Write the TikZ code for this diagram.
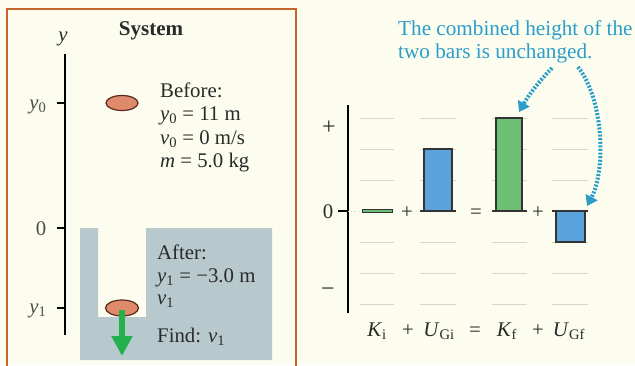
\documentclass[tikz,border=0pt]{standalone}
\usepackage{fontspec}
\setmainfont{Liberation Serif}
\usetikzlibrary{arrows.meta}
\definecolor{bg}{HTML}{FDFDEF}
\definecolor{frame}{HTML}{C8662A}
\definecolor{pool}{HTML}{B7C9CC}
\definecolor{rock}{HTML}{E08A6C}
\definecolor{rockline}{HTML}{5A2A1A}
\definecolor{garrow}{HTML}{22B14C}
\definecolor{gridc}{HTML}{D6D6C8}
\definecolor{bluebar}{HTML}{5BA3DC}
\definecolor{greenbar}{HTML}{6DC073}
\definecolor{barline}{HTML}{333333}
\definecolor{note}{HTML}{2A9DC9}
\definecolor{ink}{HTML}{2A2A2A}
\begin{document}
\begin{tikzpicture}[x=1pt,y=-1pt,
  txt/.style={inner sep=0pt,anchor=base west,text=ink,font=\fontsize{20.8}{24}\selectfont},
  ctxt/.style={inner sep=0pt,anchor=base,text=ink,font=\fontsize{20.8}{24}\selectfont},
  signtxt/.style={inner sep=0pt,anchor=center,text=ink,font=\fontsize{24}{26}\selectfont},
  gridline/.style={gridc,line width=1pt},
  baseln/.style={barline,line width=1.2pt},
  bluefill/.style={fill=bluebar,draw=barline,line width=1.2pt},
  greenfill/.style={fill=greenbar,draw=barline,line width=1.2pt},
  rockstyle/.style={fill=rock,draw=rockline,line width=1.2pt},
  dotarrow/.style={note,line width=4pt,dash pattern=on 2pt off 1.6pt,-{Triangle[width=13pt,length=10pt]}},
  notetxt/.style={inner sep=0pt,anchor=base west,text=note,font=\fontsize{21.2}{24}\selectfont}]
\useasboundingbox (0,0) rectangle (635,365);
\fill[bg] (0,0) rectangle (635,365);

% ---------- left panel ----------
\draw[frame,line width=2.2pt] (7,368) -- (7,9) -- (296,9) -- (296,368);
\fill[pool] (80,228) -- (98,228) -- (98,317) -- (146,317) -- (146,228) -- (272,228) -- (272,360) -- (80,360) -- cycle;

\node[ctxt,font=\fontsize{21}{24}\selectfont\bfseries] (sys) at (151,35) {System};
\node[ctxt] (ylab) at (63,41) {\textit{y}};
\draw[line width=1.6pt] (65,54) -- (65,335);
\draw[line width=1.2pt] (57,103) -- (65,103);
\draw[line width=1.2pt] (57,228) -- (65,228);
\draw[line width=1.2pt] (57,308) -- (65,308);
\node[ctxt,text=black!70] (y0lab) at (38,109) {\textit{y}\textsubscript{0}};
\node[ctxt,text=black!70] (zlab) at (41,235) {0};
\node[ctxt,text=black!70] (y1lab) at (38,313) {\textit{y}\textsubscript{1}};

\draw[rockstyle] (122,103) ellipse [x radius=16,y radius=7.5];
\node[txt] (b1) at (160,97) {Before:};
\node[txt] (b2) at (160,120) {\textit{y}\textsubscript{0} = 11 m};
\node[txt] (b3) at (160,144) {\textit{v}\textsubscript{0} = 0 m/s};
\node[txt] (b4) at (160,167) {\textit{m} = 5.0 kg};

\draw[rockstyle] (122,308) ellipse [x radius=16.5,y radius=8];
\coordinate (ga) at (122,310);
\coordinate (gb) at (122,356);
\draw[garrow,line width=6pt,-{Triangle[width=20pt,length=20pt]}] (ga) -- (gb);
\node[txt] (a1) at (157,259) {After:};
\node[txt] (a2) at (157,282) {\textit{y}\textsubscript{1} = −3.0 m};
\node[txt] (a3) at (157,304) {\textit{v}\textsubscript{1}};
\node[txt] (a4) at (157,342) {Find: \textit{v}\textsubscript{1}};

% ---------- right panel ----------
\foreach \xa/\xb in {360/394,420/456,492/527,552/588}{
  \foreach \yy in {118,149,180,242,273,304}{
    \draw[gridline] (\xa,\yy) -- (\xb,\yy);
  }
}
\draw[line width=1.6pt] (348,105) -- (348,313);
\draw[line width=1.2pt] (338,211) -- (348,211);
\draw[gridc,line width=0.8pt,dotted] (348,211) -- (360,211);
\node[signtxt] (plus) at (329,128) {+};
\node[ctxt] (zero) at (328,218) {0};
\node[signtxt] (minus) at (328,292) {−};

\draw[greenfill,line width=1pt] (362,209.5) rectangle (392,212.5);
\draw[bluefill] (424,149) rectangle (452,211);
\draw[baseln] (420,211) -- (456,211);
\draw[greenfill] (496,118) rectangle (522,211);
\draw[baseln] (492,211) -- (527,211);
\draw[bluefill] (556,211) rectangle (585,242);
\draw[baseln] (552,211) -- (588,211);

\node[ctxt] (s1) at (407,218) {+};
\node[ctxt] (s2) at (476,218) {=};
\node[ctxt] (s3) at (538,218) {+};

\node[ctxt] (l1) at (377,336) {\textit{K}\textsubscript{i}};
\node[ctxt] (l2) at (408,336) {+};
\node[ctxt] (l3) at (439,336) {\textit{U}\textsubscript{Gi}};
\node[ctxt] (l4) at (475,336) {=};
\node[ctxt] (l5) at (507,336) {\textit{K}\textsubscript{f}};
\node[ctxt] (l6) at (538,336) {+};
\node[ctxt] (l7) at (569,336) {\textit{U}\textsubscript{Gf}};

\node[notetxt] (n1) at (398,35) {The combined height of the};
\node[notetxt] (n2) at (398,58) {two bars is unchanged.};
\coordinate (d1s) at (552,68);
\coordinate (d1e) at (519,112);
\coordinate (d2s) at (578,67);
\coordinate (d2e) at (587,206);
\draw[dotarrow] (d1s) .. controls (540,80) and (528,96) .. (d1e);
\draw[dotarrow] (d2s) .. controls (604,100) and (606,170) .. (d2e);
\end{tikzpicture}
\end{document}
